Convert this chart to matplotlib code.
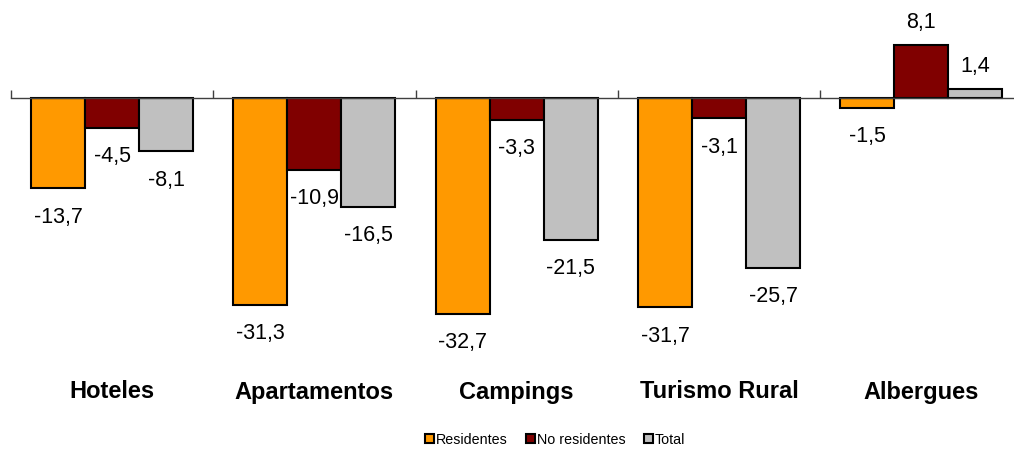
import matplotlib
matplotlib.use("Agg")
import matplotlib.pyplot as plt
import numpy as np

plt.rcParams['font.family'] = ['Liberation Sans', 'DejaVu Sans']

categories = ["Hoteles", "Apartamentos", "Campings", "Turismo Rural", "Albergues"]
residentes = [-13.7, -31.3, -32.7, -31.7, -1.5]
no_residentes = [-4.5, -10.9, -3.3, -3.1, 8.1]
total = [-8.1, -16.5, -21.5, -25.7, 1.4]
series_names = ["Residentes", "No residentes", "Total"]
colors = ["#FF9900", "#800000", "#C0C0C0"]

W, H = 1014, 450
fig = plt.figure(figsize=(W/100, H/100), dpi=100)
ymin, ymax = -35.0, 14.8
zero_px = 98
ppu = 6.6
top_px = zero_px - ymax*ppu
bot_px = zero_px - ymin*ppu
left_px, cat_px = 11, 202.3
right_px = left_px + cat_px*len(categories)
ax = fig.add_axes([left_px/W, 1 - bot_px/H, (right_px-left_px)/W, (bot_px-top_px)/H])
ax.set_xlim(0, len(categories))
ax.set_ylim(ymin, ymax)

x = np.arange(len(categories)) + 0.5
bw = 0.267
for i, (vals, c, name) in enumerate(zip([residentes, no_residentes, total], colors, series_names)):
    xs = x + (i-1)*bw
    ax.bar(xs, vals, bw, color=c, edgecolor='black', linewidth=1.5, label=name, zorder=3)
    for xi, v in zip(xs, vals):
        yy = v - 29/ppu if v < 0 else v + 22/ppu
        ax.text(xi, yy, f"{v:.1f}".replace('.', ','), ha='center', va='center', fontsize=15.5, color='black')

for sp in ['top', 'right', 'left']:
    ax.spines[sp].set_visible(False)
ax.spines['bottom'].set_position(('data', 0))
ax.spines['bottom'].set_color('#404040')
ax.spines['bottom'].set_linewidth(1.0)
ax.spines['bottom'].set_zorder(4)
ax.set_yticks([])
ax.set_xticks(np.arange(len(categories)+1))
ax.set_xticklabels([])
ax.tick_params(axis='x', direction='in', length=6, color='#404040', width=1.0)

for xi, cat in zip(x, categories):
    fig.text((left_px + xi*cat_px)/W, 1 - 392/H, cat, ha='center', va='center',
             fontsize=17, fontweight='bold')

handles = [plt.Rectangle((0, 0), 1, 1, facecolor=c, edgecolor='black', linewidth=1.5) for c in colors]
fig.legend(handles, series_names, loc='center', bbox_to_anchor=(555/W, 1 - 440/H), ncol=3,
           frameon=False, fontsize=10.3, handlelength=0.6, handleheight=0.6, handletextpad=0.15,
           columnspacing=1.3)

fig.savefig("out.png", dpi=100)
